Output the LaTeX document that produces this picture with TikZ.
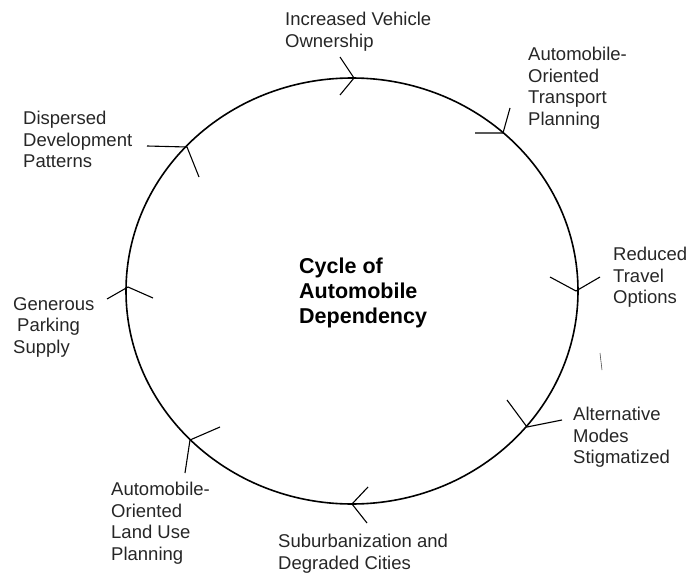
\documentclass[tikz,border=0pt]{standalone}
\usepackage{fontspec}
\setmainfont{Liberation Sans}

\begin{document}
\begin{tikzpicture}[x=1pt,y=-1pt]
		\tikzstyle{every node}+=[inner sep=0pt]
		\tikzstyle{lbl}=[anchor=north west, align=left, text=black!85, font=\fontsize{18.5}{21.5}\selectfont]
		\tikzstyle{barb}=[black, line width=1.1pt]
		\useasboundingbox (0,0) rectangle (689,578);
		\draw [black, line width=1.6pt] (352,291) ellipse (226 and 213);
		\node [lbl, font=\bfseries\fontsize{21.5}{25}\selectfont, text=black] (title) at (299,258) {Cycle of\\Automobile\\Dependency};
		\node [lbl] (owner) at (285,12) {Increased Vehicle\\Ownership};
		\node [lbl] (transp) at (528,47) {Automobile-\\Oriented\\Transport\\Planning};
		\node [lbl] (travel) at (613,247) {Reduced\\Travel\\Options};
		\node [lbl] (modes) at (573,407) {Alternative\\Modes\\Stigmatized};
		\node [lbl] (suburb) at (278,534) {Suburbanization and\\Degraded Cities};
		\node [lbl] (landuse) at (111,482) {Automobile-\\Oriented\\Land Use\\Planning};
		\node [lbl] (parking) at (13,297) {Generous\\\hspace{4pt}Parking\\Supply};
		\node [lbl] (sprawl) at (23,111) {Dispersed\\Development\\Patterns};
		\coordinate (t1) at (354,78);
		\coordinate (t2) at (503,133);
		\coordinate (t3) at (576,291);
		\coordinate (t4) at (527,427);
		\coordinate (t5) at (352,504);
		\coordinate (t6) at (190,440);
		\coordinate (t7) at (128,287);
		\coordinate (t8) at (187,147);
		\draw [barb] (340,57) -- (t1) -- (340,95);
		\draw [barb] (475,133) -- (t2) -- (510,108);
		\draw [barb] (550,277) -- (t3) -- (600,277);
		\draw [barb] (507,400) -- (t4) -- (562,420);
		\draw [barb] (368,487) -- (t5) -- (367,523);
		\draw [barb] (220,427) -- (t6) -- (185,473);
		\draw [barb] (107,299) -- (t7) -- (153,298);
		\draw [barb] (147,146) -- (t8) -- (199,177);
		\draw [black!70, line width=0.6pt] (600,353) -- (602,370);
\end{tikzpicture}
\end{document}
